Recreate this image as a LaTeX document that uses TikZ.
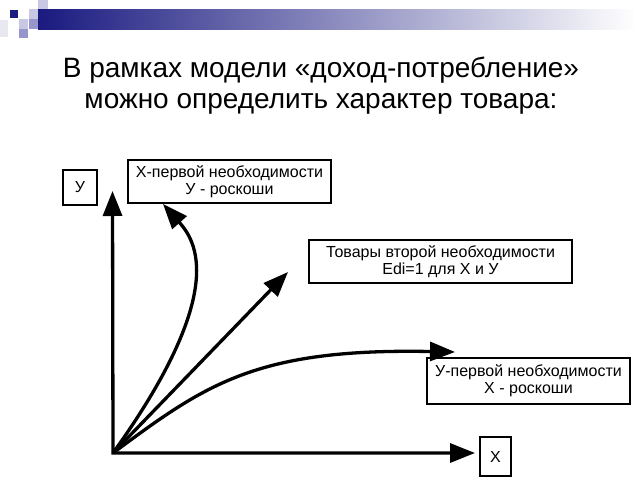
\documentclass[tikz,border=0pt]{standalone}
\usepackage{fontspec}
\setmainfont{Liberation Sans}
\usepackage{tikz}
\usetikzlibrary{arrows.meta}
\usepackage{xcolor}
\definecolor{navy}{RGB}{26,26,128}
\definecolor{lilac}{RGB}{200,200,228}
\definecolor{midlilac}{RGB}{150,150,204}
\definecolor{paleblue}{RGB}{232,232,240}

\begin{document}
\begin{tikzpicture}[x=1pt, y=-1pt, >={Triangle[length=25pt,width=19pt]},
        curve/.style = {line width=3.3pt, ->},
        box/.style = {draw, line width=1.2pt, inner sep=0pt, align=center, font=\fontsize{16}{17}\selectfont}]
        \useasboundingbox (0,0) rectangle (640,480);
        % header bar
        \shade[left color=navy, middle color={rgb,255:red,120;green,120;blue,188}, right color=white] (38,9) rectangle (636,29);
        \fill[paleblue] (0,20) rectangle (8,37);
        \fill[navy] (10,10) rectangle (18,18);
        \fill[lilac] (29,9) rectangle (38,19);
        \fill[lilac] (38,0) rectangle (48,9);
        \fill[midlilac] (29,19) rectangle (38,29);
        \fill[lilac] (19,19) rectangle (28,29);
        \fill[midlilac] (19,29) rectangle (28,38);
        \node (title1) [anchor=base, font=\fontsize{28}{30}\selectfont] at (321,77.5) {В рамках модели «доход-потребление»};
        \node (title2) [anchor=base, font=\fontsize{28}{30}\selectfont] at (321,108) {можно определить характер товара:};
        \node (ylab) [box, minimum width=34pt, minimum height=35pt] at (80,187.5) {У};
        \node (xfirst) [box, minimum width=203pt, minimum height=43pt] at (229.5,181.5) {Х-первой необходимости\\У - роскоши};
        \node (second) [box, minimum width=263pt, minimum height=43pt] at (440.5,261.5) {Товары второй необходимости\\Edi=1 для Х и У};
        \node (yfirst) [box, minimum width=203pt, minimum height=46pt] at (528.5,381) {У-первой необходимости\\Х - роскоши};
        \node (xlab) [box, minimum width=31pt, minimum height=39pt] at (495.5,456.5) {Х};
        \coordinate (O) at (113,453);
        \coordinate (ytip) at (112.5,191);
        \coordinate (xtip) at (475,453);
        \coordinate (luxtip) at (163,204);
        \coordinate (midtip) at (288,272);
        \coordinate (nectip) at (455,352);
        \draw[curve, <->] (ytip) -- (O) -- (xtip);
        \draw[curve] (O) .. controls (230,290) and (195,240) .. (luxtip);
        \draw[curve] (O) -- (midtip);
        \draw[curve] (O) .. controls (205,385) and (255,348) .. (nectip);
    \end{tikzpicture}
\end{document}
